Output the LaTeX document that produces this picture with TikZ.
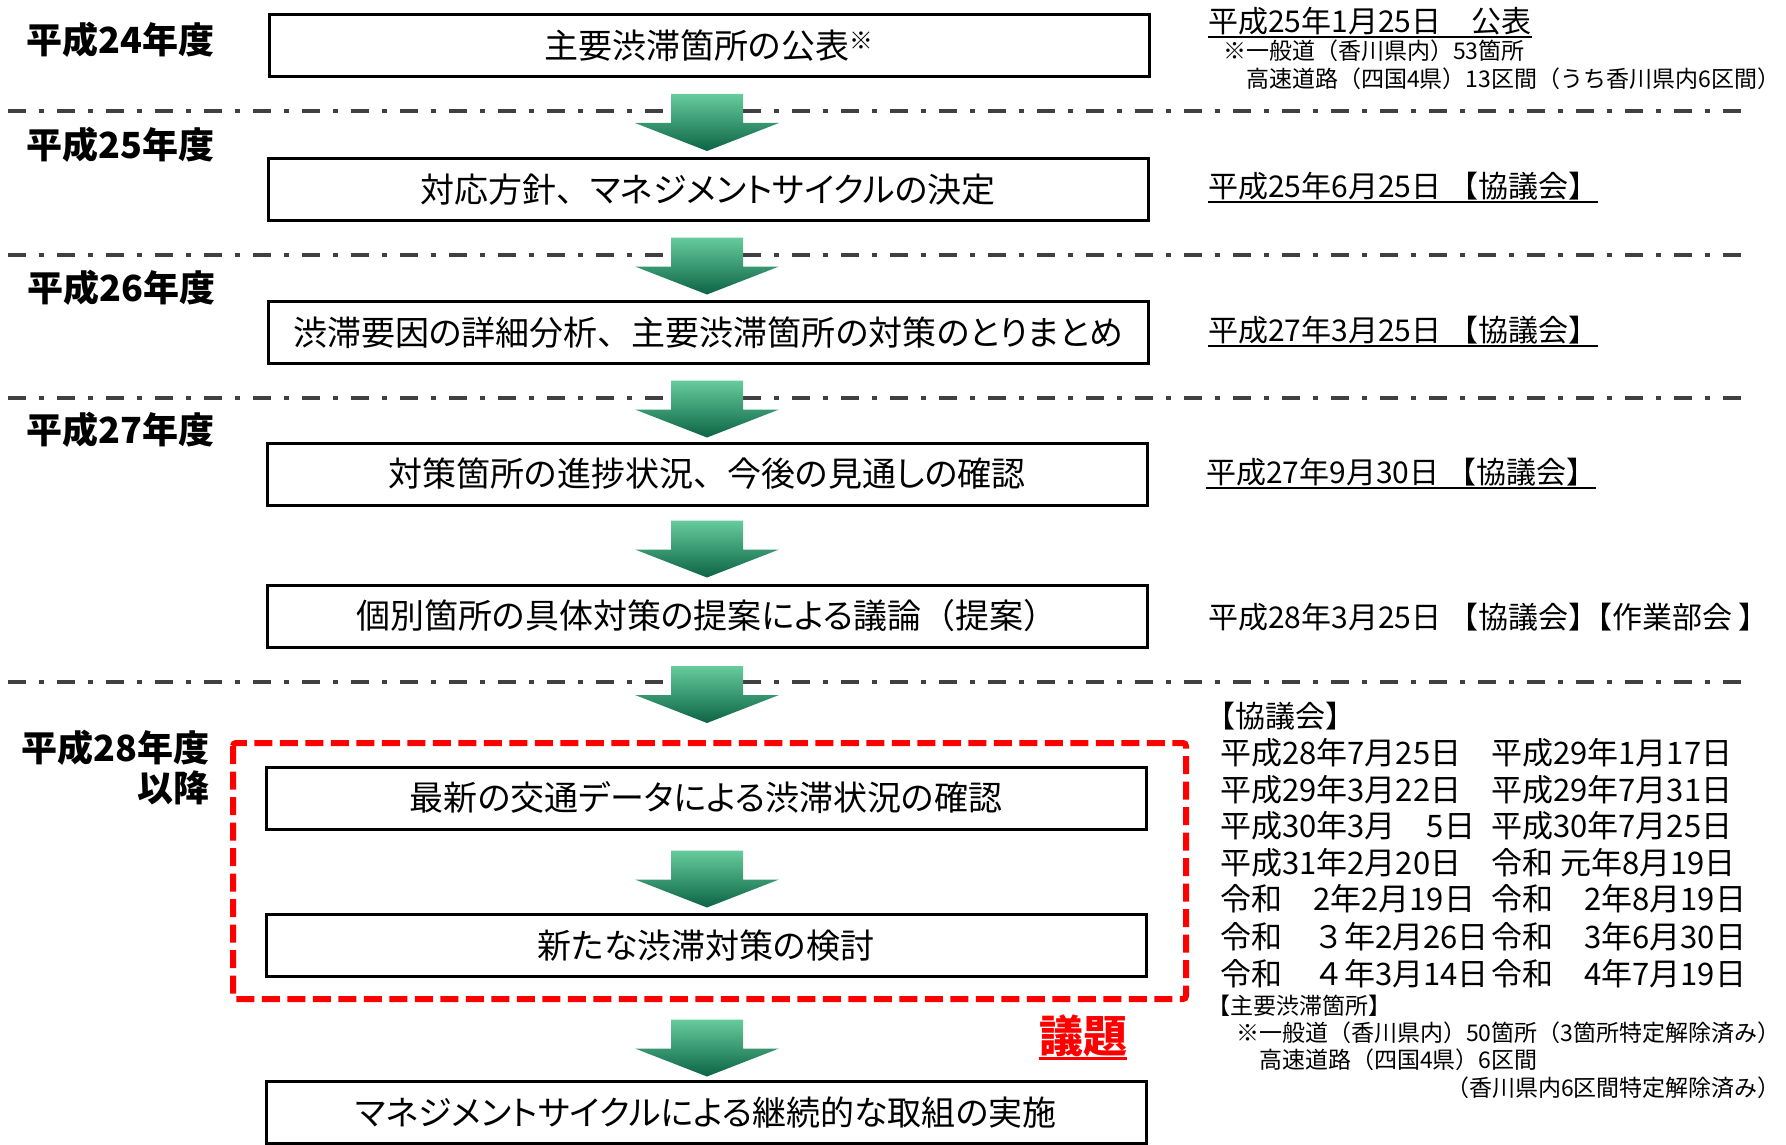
\documentclass[tikz,border=0pt]{standalone}
\usepackage{fontspec}
\setmainfont{Noto Sans CJK JP}
\newfontfamily\stepfont[CharacterWidth=AlternateProportional]{Noto Sans CJK JP}
\usetikzlibrary{calc}

\definecolor{arrowtop}{RGB}{102,204,155}
\definecolor{arrowbot}{RGB}{12,100,70}
\definecolor{sepgray}{RGB}{64,64,64}
\definecolor{agendared}{RGB}{255,0,0}

\newcommand{\fsz}[1]{\fontsize{#1}{#1}\selectfont}
\newcommand{\fullw}[1]{{\rmfamily #1}}

\tikzset{
  stepbox/.style={draw, line width=3pt, minimum width=880pt, minimum height=62pt, inner sep=0pt, font=\stepfont\fsz{34}},
  yearlabel/.style={anchor=east, inner sep=0pt, font=\fsz{36}\bfseries},
  datetext/.style={anchor=west, inner sep=0pt, font=\fsz{30}},
  gridtext/.style={anchor=west, inner sep=0pt, font=\fsz{31}},
  notetext/.style={anchor=west, inner sep=0pt, font=\fsz{23}},
  sepline/.style={draw=sepgray, line width=4pt, dash pattern=on 18pt off 13pt on 5pt off 13pt},
  downarrow/.pic={
    \shade[top color=arrowtop, bottom color=arrowbot]
      (-36,-28.5) -- (36,-28.5) -- (36,0.5) -- (72,0.5) -- (0,28.5) -- (-72,0.5) -- (-36,0.5) -- cycle;
  },
}

\begin{document}
\begin{tikzpicture}[x=1pt, y=-1pt]
    \useasboundingbox (0,0) rectangle (1786,1145);

    % Year separators
    \foreach \y in {111,255,398,682} {
        \draw[sepline] (8,\y) -- (1743,\y);
    }

    % Year labels
    \node[yearlabel] (h24) at (215,40) {平成24年度};
    \node[yearlabel] (h25) at (215,145) {平成25年度};
    \node[yearlabel] (h26) at (216,288) {平成26年度};
    \node[yearlabel] (h27) at (215,430) {平成27年度};
    \node[yearlabel] (h28) at (210,748) {平成28年度};
    \node[yearlabel] (h28b) at (210,788) {以降};

    % Steps
    \node[stepbox] (publish) at (709,46) {主要渋滞箇所の公表\textsuperscript{※}};
    \node[stepbox] (policy) at (708,189.5) {対応方針\fullw{、}マネジメントサイクルの決定};
    \node[stepbox] (analysis) at (708,332.5) {渋滞要因の詳細分析\fullw{、}主要渋滞箇所の対策のとりまとめ};
    \node[stepbox] (progress) at (707,474) {対策箇所の進捗状況\fullw{、}今後の見通しの確認};
    \node[stepbox] (proposal) at (707,616) {個別箇所の具体対策の提案による議論\fullw{（}提案\fullw{）}};
    \node[stepbox] (traffic) at (706,798) {最新の交通データによる渋滞状況の確認};
    \node[stepbox] (measure) at (706,945.5) {新たな渋滞対策の検討};
    \node[stepbox] (cycle) at (706,1112.5) {マネジメントサイクルによる継続的な取組の実施};

    % Green arrows between steps
    \foreach \y in {122.5,266,409,549,694.5,879,1048} {
        \pic at (707,\y) {downarrow};
    }

    % Agenda frame
    \draw[agendared, line width=6pt, dash pattern=on 18pt off 7.5pt, rounded corners=3pt] (233,743) rectangle (1186,999);
    \node[inner sep=0pt, text=agendared, font=\fsz{44}\bfseries] (agenda) at (1083,1036) {議題};
    \draw[agendared, line width=3pt] ([yshift=-6pt]agenda.base west) -- ([yshift=-6pt]agenda.base east);

    % Dates on the right
    \node[datetext] (d24) at (1208,21) {平成25年1月25日　公表};
    \draw[line width=2pt] ([yshift=-5pt]d24.base west) -- ([yshift=-5pt]d24.base east);
    \node[notetext] (n24a) at (1223,51) {※一般道（香川県内）53箇所};
    \node[notetext] (n24b) at (1246,79) {高速道路（四国4県）13区間（うち香川県内6区間）};

    \node[datetext] (d25) at (1208,186) {平成25年6月25日 【協議会】};
    \draw[line width=2pt] ([yshift=-5pt]d25.base west) -- ([yshift=-5pt]d25.base east);
    \node[datetext] (d26) at (1208,330) {平成27年3月25日 【協議会】};
    \draw[line width=2pt] ([yshift=-5pt]d26.base west) -- ([yshift=-5pt]d26.base east);
    \node[datetext] (d27) at (1206,472) {平成27年9月30日 【協議会】};
    \draw[line width=2pt] ([yshift=-5pt]d27.base west) -- ([yshift=-5pt]d27.base east);
    \node[datetext] (d28) at (1208,617) {平成28年3月25日 【協議会】\kern-16pt【作業部会 】};

    % Council meetings
    \node[datetext] (council) at (1205,716) {【協議会】};
    \foreach \y/\a/\b [count=\i] in {753/平成28年7月25日/平成29年1月17日,
                                     790/平成29年3月22日/平成29年7月31日,
                                     826/平成30年3月　5日/平成30年7月25日,
                                     863/平成31年2月20日/令和 元年8月19日,
                                     899/令和　2年2月19日/令和　2年8月19日,
                                     937/令和　３年2月26日/令和　3年6月30日,
                                     974/令和　４年3月14日/令和　4年7月19日} {
        \node[gridtext] (ga\i) at (1220,\y) {\a};
        \node[gridtext] (gb\i) at (1491,\y) {\b};
    }

    % Current bottlenecks
    \node[notetext] (spots) at (1207,1006) {【主要渋滞箇所】};
    \node[notetext] (n28a) at (1236,1033) {※一般道（香川県内）50箇所（3箇所特定解除済み）};
    \node[notetext] (n28b) at (1259,1060) {高速道路（四国4県）6区間};
    \node[notetext, anchor=east] (n28c) at (1781,1088) {（香川県内6区間特定解除済み）};
\end{tikzpicture}
\end{document}
